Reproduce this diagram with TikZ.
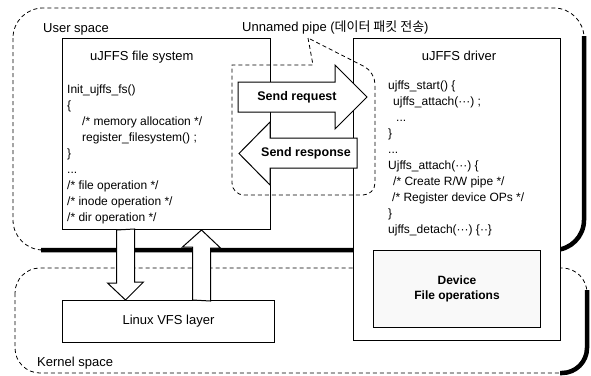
\documentclass[tikz,border=0pt]{standalone}
\usepackage{fontspec}
\setmainfont{Liberation Sans}
\newfontfamily\krfont{Noto Sans CJK KR}
\usetikzlibrary{calc}

\begin{document}
\begin{tikzpicture}[x=1pt,y=-1pt,
  box/.style={draw, line width=1pt, fill=white, inner sep=0, anchor=north west},
  codetext/.style={align=left, inner sep=0, anchor=north west, font=\fontsize{12}{15.9}\selectfont},
  titletext/.style={inner sep=0, font=\fontsize{13}{15}\selectfont},
  arrowtext/.style={inner sep=0, font=\bfseries\fontsize{12.5}{15}\selectfont},
  blockarrow/.style={draw, line width=1pt, fill=white, line join=miter},
  spacebox/.style={draw, line width=0.8pt, dash pattern=on 4pt off 3pt},
  shadowline/.style={draw, line width=4.5pt},
  pipeline/.style={draw, line width=0.8pt, dash pattern=on 4pt off 3pt}]
\useasboundingbox (0,0) rectangle (591,375);

% user space / kernel space
\draw[spacebox, rounded corners=30] (13,8) rectangle (584,250);
\draw[shadowline, rounded corners=30] (584,36) -- (584,250) -- (41,250);
\draw[spacebox, rounded corners=25] (15,268) rectangle (587,373);
\draw[shadowline, rounded corners=25] (587,290) -- (587,373) -- (560,373);
\node[titletext, anchor=west] (userlbl) at (43,29) {User space};
\node[titletext, anchor=west] (kernellbl) at (37,363) {Kernel space};

% file system and driver
\node[box, minimum width=208, minimum height=191] (fsbox) at (62,38) {};
\node[titletext, anchor=west] (fstitle) at (90,57) {uJFFS file system};
\node[codetext] (fscode) at (67,85) {Init\_ujffs\_fs()\\
  \{\\
  \hspace*{15pt}/* memory allocation */\\
  \hspace*{15pt}register\_filesystem() ;\\
  \}\\
  ...\\
  /* file operation */\\
  /* inode operation */\\
  /* dir operation */};

\node[box, minimum width=207, minimum height=302] (drvbox) at (353,38) {};
\node[titletext] (drvtitle) at (459,56) {uJFFS driver};
\node[codetext] (drvcode) at (388,81) {ujffs\_start() \{\\
  \hspace*{5pt}ujffs\_attach(···) ;\\
  \hspace*{8pt}...\\
  \}\\
  ...\\
  Ujffs\_attach(···) \{\\
  \hspace*{5pt}/* Create R/W pipe */\\
  \hspace*{4pt}/* Register device OPs */\\
  \}\\
  ujffs\_detach(···) \{··\}};
\node[box, fill=gray!5, minimum width=167, minimum height=77, align=center,
  font=\bfseries\fontsize{12}{14.5}\selectfont] (devbox) at (373,250) {Device\\File operations};

% vfs
\node[box, minimum width=212, minimum height=42, font=\fontsize{13}{15}\selectfont] (vfsbox) at (62,300) {Linux VFS layer};
\coordinate (dn) at ($(fsbox.south)+(-41,0)$);
\coordinate (up) at ($(vfsbox.north)+(33,0)$);
\draw[blockarrow] (dn) ++(-9,0) -- ++(0,53) -- ++(-9,0) -- (dn |- vfsbox.north)
  -- ++(18,-18) -- ++(-9,0) -- ++(0,-53) -- cycle;
\draw[blockarrow] (up) ++(-9,0) -- ++(0,-53) -- ++(-10,0) -- (up |- fsbox.south)
  -- ++(19,18) -- ++(-10,0) -- ++(0,53) -- cycle;

% pipe
\draw[blockarrow] (238,82) -- (335,82) -- (335,65) -- (367,97) -- (335,129) -- (335,112) -- (238,112) -- cycle;
\node[arrowtext] (sendreq) at (297,97) {Send request};
\draw[blockarrow] (357,138) -- (270,138) -- (270,122) -- (239,153.5) -- (270,185) -- (270,168) -- (357,168) -- cycle;
\node[arrowtext] (sendresp) at (306,153) {Send response};
\node[titletext, anchor=west] (pipelbl) at (242,27) {Unnamed pipe ({\krfont 데이터 패킷 전송})};
\draw[pipeline] (308,38) -- (313,65) -- (232,65) [rounded corners=12] -- (232,195)
  -- (375,195) -- (375,72) -- (308,38);
\end{tikzpicture}
\end{document}
